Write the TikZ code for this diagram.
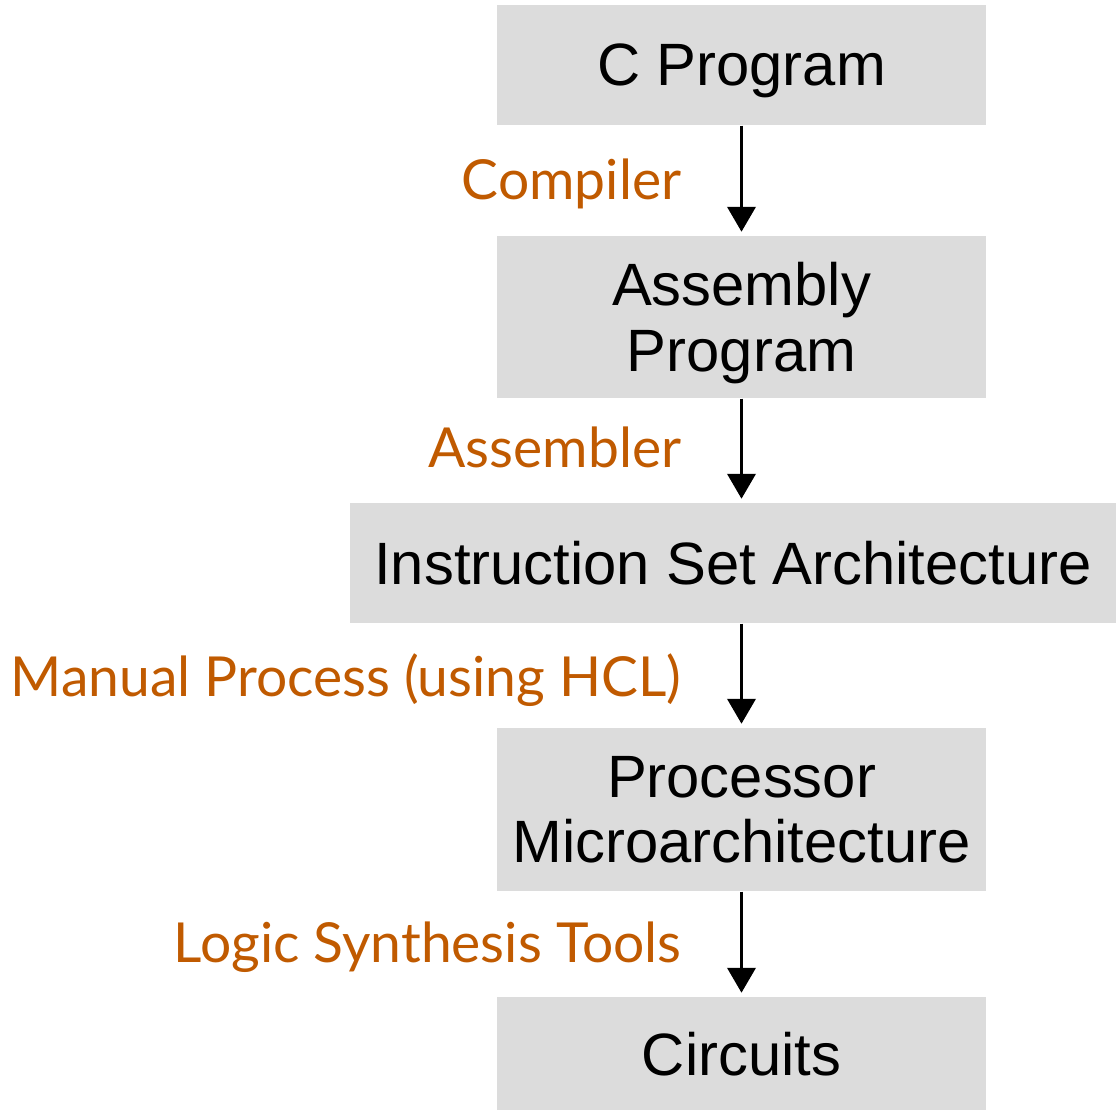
\documentclass[tikz,border=0pt]{standalone}
\usepackage{fontspec}
\usetikzlibrary{arrows.meta}
\newfontfamily\boxfont{Liberation Sans}
\newfontfamily\stepfont{Lato}
\definecolor{toolcolor}{RGB}{192,90,0}
\definecolor{layercolor}{RGB}{220,220,220}
\begin{document}
\begin{tikzpicture}[
    layer/.style={fill=layercolor, inner sep=0pt, align=center, text depth=0pt,
                  font=\boxfont\fontsize{17}{18.6}\selectfont},
    tool/.style={anchor=base east, inner sep=0pt, text=toolcolor,
                 font=\stepfont\fontsize{15.7}{18}\selectfont},
    flow/.style={-{Triangle[width=2.8mm,length=2.5mm]}, line width=1.1pt, shorten >=1pt}
  ]
  \useasboundingbox (0,0) rectangle (11.16,11.11);

  \node[layer, minimum width=4.89cm, minimum height=1.20cm] (cprog) at (7.415, 10.46) {C Program};
  \node[layer, minimum width=4.89cm, minimum height=1.62cm] (asm)   at (7.415, 7.94)  {Assembly\\Program};
  \node[layer, minimum width=7.66cm, minimum height=1.20cm] (isa)   at (7.33, 5.48)   {Instruction Set Architecture};
  \node[layer, minimum width=4.89cm, minimum height=1.63cm] (uarch) at (7.415, 3.015) {Processor\\Microarchitecture};
  \node[layer, minimum width=4.89cm, minimum height=1.13cm] (circ)  at (7.415, 0.575) {Circuits};

  \node[tool] (compiler)  at (6.82, 9.11) {Compiler};
  \node[tool] (assembler) at (6.82, 6.43) {Assembler};
  \node[tool] (manual)    at (6.82, 4.14) {Manual Process (using HCL)};
  \node[tool] (synth)     at (6.82, 1.48) {Logic Synthesis Tools};

  \draw[flow] (cprog.south) -- (asm.north);
  \draw[flow] (asm.south) -- (asm.south |- isa.north);
  \draw[flow] (isa.south -| uarch.north) -- (uarch.north);
  \draw[flow] (uarch.south) -- (circ.north);
\end{tikzpicture}
\end{document}
